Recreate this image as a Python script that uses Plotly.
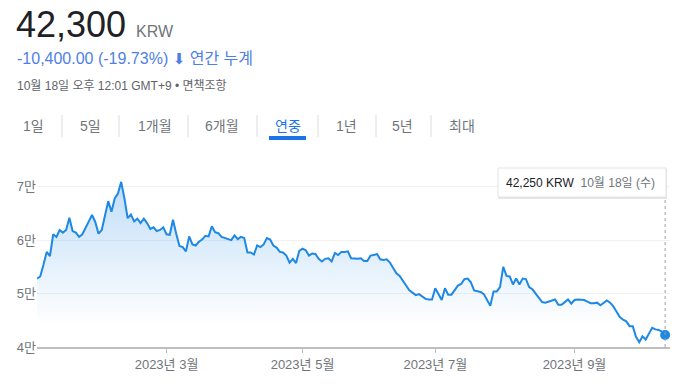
import plotly.graph_objects as go
import pandas as pd

# ---------------- data ----------------
holidays = ["2023-01-23", "2023-01-24", "2023-03-01", "2023-05-01", "2023-05-05",
            "2023-05-29", "2023-06-06", "2023-08-15", "2023-09-28", "2023-09-29",
            "2023-10-02", "2023-10-03", "2023-10-09"]
all_days = pd.bdate_range("2023-01-02", "2023-10-18")
dates = [d.strftime("%Y-%m-%d") for d in all_days if d.strftime("%Y-%m-%d") not in holidays]

prices = [
    52800, 53200, 55400, 57800, 57000, 61100, 60600, 61900, 61400, 61900,
    64200, 61700, 61400, 60600, 61100, 62200, 63500, 64700, 63400, 61200,
    61900, 64600, 67300, 65300, 67800, 68700, 70900, 67800, 64100, 64800,
    63500, 64000, 63200, 64000, 63200, 62100, 62400, 61700, 61900, 62400,
    61100, 61000, 63800, 61200, 58900, 58700, 57900, 60700, 59200, 59000,
    59700, 60100, 60800, 60700, 62600, 61500, 61300, 60600, 60400, 60200,
    60000, 60900, 60200, 60600, 60400, 57700, 57700, 57300, 59000, 58700,
    59200, 60400, 60100, 59000, 58600, 57800, 57700, 57100, 55800, 56500,
    55700, 58000, 58400, 58100, 57100, 57500, 57400, 56500, 56000, 56500,
    56600, 56000, 57600, 57200, 57800, 57800, 57900, 56600, 56500, 56500,
    56600, 56100, 56100, 57100, 57200, 57400, 56400, 56300, 56400, 55800,
    54800, 53800, 53300, 52500, 51500, 50600, 50200, 49700, 49900, 49400,
    49000, 48900, 48900, 51000, 49900, 48800, 51000, 49800, 49800, 50700,
    51500, 51800, 52700, 52800, 52100, 50600, 50400, 50300, 49900, 48900,
    47700, 50400, 50400, 51200, 55000, 53300, 53200, 51700, 52800, 51700,
    52800, 52700, 51200, 50800, 50000, 49300, 48400, 48300, 48500, 48700,
    48900, 47900, 47900, 48400, 48900, 48100, 48800, 48900, 48900, 48800,
    48500, 48200, 48200, 48300, 47800, 48300, 48700, 48300, 47600, 46600,
    45600, 45100, 44800, 43900, 43900, 41900, 40900, 42000, 41400, 42500,
    43600, 43300, 43200, 42900, 42250,
]
n = min(len(dates), len(prices))
dates, prices = dates[:n], prices[:n]

y_tickvals = [40000, 50000, 60000, 70000]
y_ticktext = ["4만", "5만", "6만", "7만"]
x_tickvals = ["2023-03-02", "2023-05-02", "2023-07-03", "2023-09-01"]
x_ticktext = ["2023년 3월", "2023년 5월", "2023년 7월", "2023년 9월"]

price_now = "42,300"
currency = "KRW"
change_text = "-10,400.00 (-19.73%)"
period_text = "연간 누계"
stamp_text = "10월 18일 오후 12:01 GMT+9 • 면책조항"
tabs = ["1일", "5일", "1개월", "6개월", "연중", "1년", "5년", "최대"]
selected_tab = "연중"
tip_value = "42,250 KRW"
tip_date = "10월 18일 (수)"

# ---------------- layout helpers ----------------
W, H = 698, 385
ML, MR, MT, MB = 37, 28, 176, 38
PW, PH = W - ML - MR, H - MT - MB
def px(x): return (x - ML) / PW
def py(y): return (H - MB - y) / PH

FONT = "Arial, 'Liberation Sans', 'Noto Sans CJK KR', sans-serif"
LINE = "#1e88e5"
GREY = "#70757a"
BLUE_DOWN = "#4f7fe6"

fig = go.Figure()
fig.add_trace(go.Scatter(
    x=dates, y=prices, mode="lines",
    line=dict(color=LINE, width=2),
    fill="tozeroy",
    fillgradient=dict(type="vertical", start=44000, stop=71000,
                      colorscale=[[0, "rgba(30,136,229,0)"], [1, "rgba(30,136,229,0.28)"]]),
    hoverinfo="skip", showlegend=False,
))
fig.add_trace(go.Scatter(
    x=[dates[-1]], y=[prices[-1]], mode="markers",
    marker=dict(color=LINE, size=10), cliponaxis=False,
    hoverinfo="skip", showlegend=False,
))

shapes = []
# dotted guide from last point to tooltip
shapes.append(dict(type="line", xref="x", yref="paper", x0=n - 1, x1=n - 1,
                   y0=0, y1=py(197), line=dict(color="#9aa0a6", width=1, dash="dot")))
# tooltip box + shadow
shapes.append(dict(type="rect", xref="paper", yref="paper", x0=px(498), x1=px(667),
                   y0=py(199), y1=py(169), line=dict(width=0), fillcolor="rgba(0,0,0,0.10)",
                   layer="above"))
shapes.append(dict(type="rect", xref="paper", yref="paper", x0=px(498), x1=px(666),
                   y0=py(197), y1=py(168), line=dict(color="#e3e3e3", width=1), fillcolor="white",
                   layer="above"))
# tab separators
for sx in [62, 119, 188, 257, 318, 376, 431]:
    shapes.append(dict(type="line", xref="paper", yref="paper", x0=px(sx), x1=px(sx),
                       y0=py(137), y1=py(115), line=dict(color="#dadce0", width=1)))
# selected tab underline
shapes.append(dict(type="rect", xref="paper", yref="paper", x0=px(269), x1=px(306),
                   y0=py(140), y1=py(136), line=dict(width=0), fillcolor="#1a73e8"))

ann = []
def text(x, y, s, size, color, anchor="left"):
    ann.append(dict(xref="paper", yref="paper", x=px(x), y=py(y), text=s, showarrow=False,
                    xanchor=anchor, yanchor="middle", font=dict(family=FONT, size=size, color=color)))

text(14, 24, price_now, 36, "#202124")
text(134, 31, currency, 16, GREY)
text(15, 59, change_text + ' <span style="font-family:\'DejaVu Sans\';font-size:15px">⬇</span> '
     + period_text, 16, BLUE_DOWN)
text(15, 86, stamp_text, 12, "#5f6368")
tab_centers = [33, 90, 154.5, 222, 287.5, 346, 402, 462]
for t, cx in zip(tabs, tab_centers):
    text(cx, 126, t, 14, "#1a73e8" if t == selected_tab else GREY, anchor="center")
text(504, 182.5, '<span style="color:#202124">' + tip_value + '</span>&nbsp;&nbsp;'
     + '<span style="color:#70757a">' + tip_date + '</span>', 12, "#202124")

fig.update_layout(
    width=W, height=H, margin=dict(l=ML, r=MR, t=MT, b=MB),
    paper_bgcolor="white", plot_bgcolor="white",
    font=dict(family=FONT, size=13, color=GREY),
    shapes=shapes, annotations=ann, showlegend=False,
    xaxis=dict(type="category", range=[0, n + 0.5], tickmode="array",
               tickvals=x_tickvals, ticktext=x_ticktext,
               showgrid=False, showline=True, linecolor="#bdbdbd", linewidth=2,
               ticks="outside", ticklen=4, tickcolor="#bdbdbd", tickwidth=1,
               tickfont=dict(size=13, color=GREY), zeroline=False, fixedrange=True),
    yaxis=dict(range=[40000, 72000], tickmode="array", tickvals=y_tickvals, ticktext=y_ticktext,
               showgrid=True, gridcolor="#f1f1f1", gridwidth=1, zeroline=False, showline=False,
               ticks="", tickfont=dict(size=13, color=GREY), fixedrange=True),
)

fig.write_html("out.html")
